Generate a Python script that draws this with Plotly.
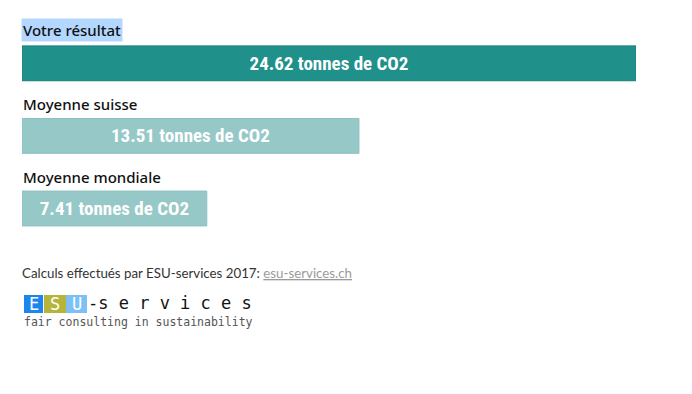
import plotly.graph_objects as go

categories = ["Votre résultat", "Moyenne suisse", "Moyenne mondiale"]
values = [24.62, 13.51, 7.41]
unit = "tonnes de CO2"
bar_colors = ["#1f908a", "#96c8c8", "#96c8c8"]
line_colors = ["#1a7d78", "#8cc0c0", "#8cc0c0"]
source_text = "Calculs effectués par ESU-services 2017: "
source_link = "esu-services.ch"

W, H = 692, 394
L, R, T, B = 22, 56, 27, 142
PW, PH = W - L - R, H - T - B


def px(x):
    return (x - L) / PW


def py(y):
    return (H - B - y) / PH


fig = go.Figure()
fig.add_trace(go.Bar(
    x=values,
    y=categories,
    orientation="h",
    marker=dict(color=bar_colors, line=dict(color=line_colors, width=1)),
    text=[f"{v:.2f} {unit}" for v in values],
    textposition="inside",
    insidetextanchor="middle",
    textfont=dict(family="Roboto Condensed, Liberation Sans Narrow, DejaVu Sans Condensed, sans-serif",
                  size=19, color="white", weight="bold"),
    hoverinfo="skip",
    cliponaxis=False,
))

annotations = []
for i, c in enumerate(categories):
    annotations.append(dict(
        x=0, xref="x", y=c, yref="y", yshift=33 if i == 0 else 31.5,
        text=c, showarrow=False, xanchor="left", yanchor="middle",
        font=dict(family="Noto Sans", size=15, color="#111111", weight=500),
        bgcolor="#b3d7ff" if i == 0 else "rgba(0,0,0,0)",
        borderpad=1, xshift=-1,
    ))

annotations.append(dict(
    x=px(20), xref="paper", y=py(273), yref="paper",
    text=source_text + "<span style='color:#9a9a9a'><u>" + source_link + "</u></span>",
    showarrow=False, xanchor="left", yanchor="middle",
    font=dict(family="Lato", size=13.3, color="#333333"),
))

shapes = []
logo_boxes = [("E", 24, 43, "#1a86ee"), ("S", 44, 66, "#b6b43a"), ("U", 66, 87, "#7dc0f6")]
for letter, x0, x1, col in logo_boxes:
    shapes.append(dict(type="rect", xref="paper", yref="paper",
                       x0=px(x0), x1=px(x1), y0=py(313), y1=py(295),
                       fillcolor=col, line=dict(width=0), layer="above"))
    annotations.append(dict(
        x=px((x0 + x1) / 2), xref="paper", y=py(304), yref="paper",
        text=letter, showarrow=False, xanchor="center", yanchor="middle",
        font=dict(family="DejaVu Sans Mono", size=17, color="white"),
    ))

annotations.append(dict(
    x=px(86), xref="paper", y=py(303), yref="paper",
    text="-s e r v i c e s", showarrow=False, xanchor="left", yanchor="middle",
    font=dict(family="DejaVu Sans Mono", size=17, color="#111111"),
))
annotations.append(dict(
    x=px(22), xref="paper", y=py(322), yref="paper",
    text="fair consulting in sustainability", showarrow=False, xanchor="left", yanchor="middle",
    font=dict(family="DejaVu Sans Mono", size=11.5, color="#555555"),
))

fig.update_layout(
    width=W, height=H,
    margin=dict(l=L, r=R, t=T, b=B, pad=0),
    paper_bgcolor="white", plot_bgcolor="white",
    bargap=0.52,
    showlegend=False,
    xaxis=dict(range=[0, max(values)], visible=False, fixedrange=True),
    yaxis=dict(autorange="reversed", visible=False, fixedrange=True),
    annotations=annotations,
    shapes=shapes,
)

fig.write_html("out.html", config={"displayModeBar": False})
